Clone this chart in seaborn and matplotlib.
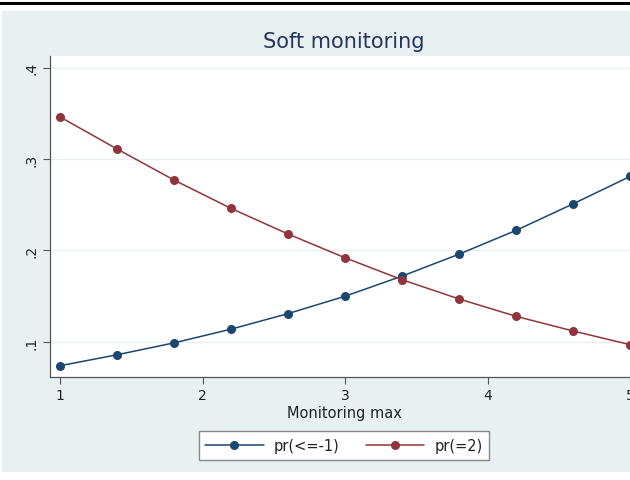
import numpy as np
import pandas as pd
import matplotlib.pyplot as plt
from matplotlib.patches import Rectangle
from matplotlib.lines import Line2D
import seaborn as sns

# Data
monitoring_max = [1.0, 1.4, 1.8, 2.2, 2.6, 3.0, 3.4, 3.8, 4.2, 4.6, 5.0]
pr_le_m1 = [0.074, 0.086, 0.099, 0.114, 0.131, 0.150, 0.172, 0.196, 0.222, 0.251, 0.281]
pr_eq_2 = [0.346, 0.311, 0.277, 0.246, 0.218, 0.192, 0.168, 0.147, 0.128, 0.112, 0.097]
series_names = ["pr(<=-1)", "pr(=2)"]
x_ticks = [1, 2, 3, 4, 5]
y_ticks = [0.1, 0.2, 0.3, 0.4]
y_tick_labels = [".1", ".2", ".3", ".4"]

df = pd.DataFrame({
    "x": monitoring_max * 2,
    "y": pr_le_m1 + pr_eq_2,
    "series": [series_names[0]] * len(monitoring_max) + [series_names[1]] * len(monitoring_max),
})

sns.set_style("white")
plt.rcParams["font.family"] = ["DejaVu Sans"]

BG = "#e9f0f2"
NAVY = "#1a476f"
MAROON = "#90353b"

fig = plt.figure(figsize=(6.3, 4.81), dpi=100, facecolor="white")
W, H = 630, 481

# graph region background and top rule
fig.patches.append(Rectangle((2 / W, 1 - 473 / H), 1, (473 - 12) / H,
                             transform=fig.transFigure, facecolor=BG, edgecolor="none", zorder=-5))
fig.lines.append(Line2D([0, 1], [1 - 4 / H, 1 - 4 / H], transform=fig.transFigure,
                        color="black", linewidth=2.2, zorder=-5))

ax = fig.add_axes([50 / W, 1 - 378 / H, (638 - 50) / W, (378 - 57) / H])
ax.set_facecolor("white")

sns.lineplot(data=df, x="x", y="y", hue="series", palette=[NAVY, MAROON],
             marker="o", markersize=6.5, markeredgewidth=0, linewidth=1.1,
             ax=ax, legend=False, clip_on=False)

ax.set_xlim(0.93, 5.055)
ax.set_ylim(0.0617, 0.4126)
ax.set_xticks(x_ticks)
ax.set_xticklabels([str(t) for t in x_ticks], fontsize=10, color="#222222")
ax.set_yticks(y_ticks)
ax.set_yticklabels(y_tick_labels, fontsize=10, color="#222222", rotation=90, va="center")
ax.grid(axis="y", color=BG, linewidth=1)
ax.tick_params(axis="both", direction="out", length=5, width=0.8, color="#555555", pad=3,
               bottom=True, left=True)

for side in ["top", "right"]:
    ax.spines[side].set_visible(False)
for side in ["left", "bottom"]:
    ax.spines[side].set_color("#555555")
    ax.spines[side].set_linewidth(0.9)

ax.set_xlabel("Monitoring max", fontsize=10.5, color="#222222", labelpad=2)
ax.set_ylabel("")
fig.text(344 / W, 1 - 48 / H, "Soft monitoring", ha="center", va="baseline",
         fontsize=15, color="#26355a")

handles = [Line2D([0], [0], color=c, marker="o", markersize=6.5, markeredgewidth=0, linewidth=1.1)
           for c in [NAVY, MAROON]]
leg = fig.legend(handles, series_names, loc="center", bbox_to_anchor=(344 / W, 1 - 446.5 / H),
                 ncol=2, frameon=True, fancybox=False, framealpha=1, fontsize=10.5,
                 handlelength=4.0, columnspacing=1.8, handletextpad=0.7, borderpad=0.45)
leg.get_frame().set_edgecolor("#888888")
leg.get_frame().set_linewidth(1.0)
for t in leg.get_texts():
    t.set_color("#222222")

fig.savefig("out.png", dpi=100)
